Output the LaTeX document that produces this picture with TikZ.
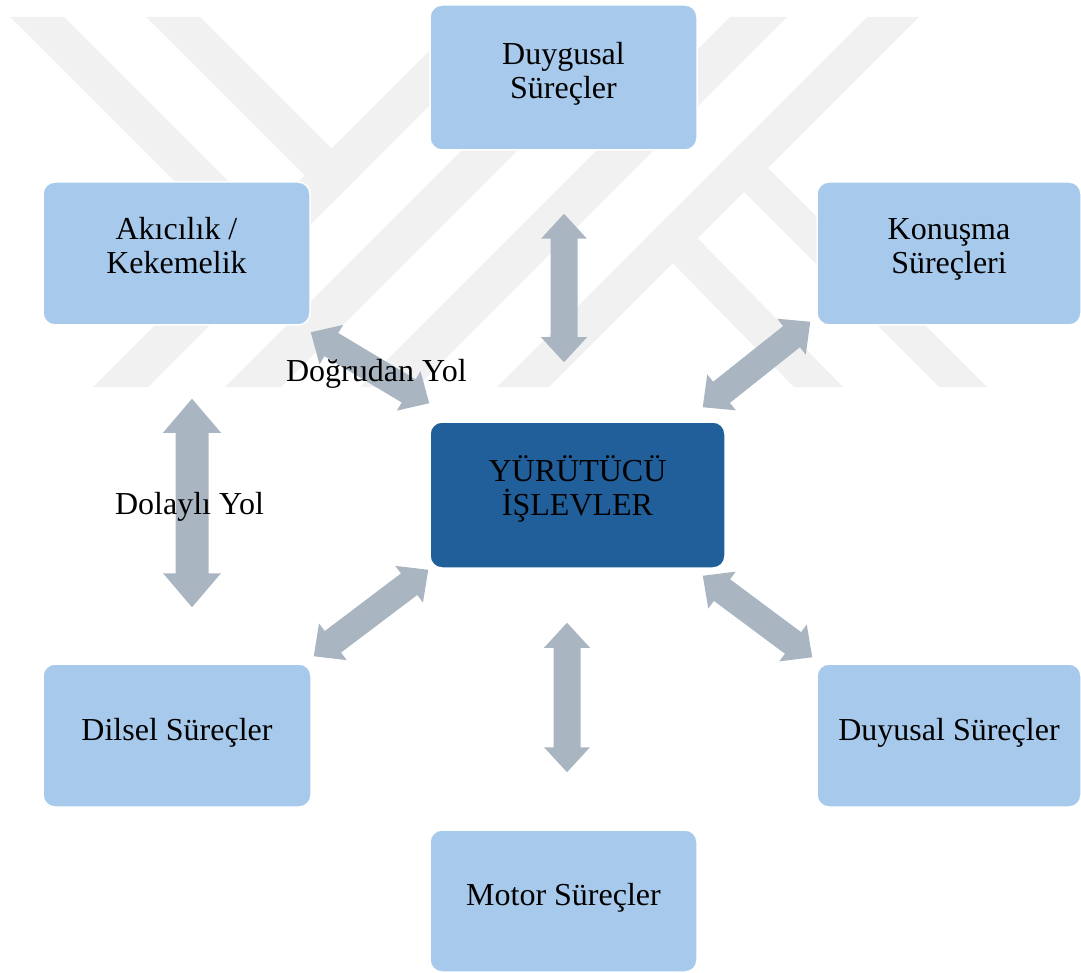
\documentclass[tikz,border=0pt]{standalone}
\usepackage{fontspec}
\setmainfont{Liberation Serif}
\usetikzlibrary{calc}

\definecolor{boxblue}{RGB}{167,201,235}
\definecolor{coreblue}{RGB}{33,95,154}
\definecolor{arrowgray}{RGB}{170,181,194}
\definecolor{markgray}{RGB}{241,241,241}

\tikzset{
  procbox/.style={rectangle, rounded corners=12pt, fill=boxblue, draw=white,
    line width=1.5pt, inner sep=0pt},
  corebox/.style={procbox, fill=coreblue},
  lbl/.style={font=\fontsize{32}{34}\selectfont, align=center, inner sep=0pt, text=black},
  arrowfill/.style={fill=arrowgray},
  wmark/.style={fill=markgray},
}

% double-headed block arrow between two named points
% #1, #2: tips; #3: half shaft width; #4: half head width; #5: head length
\newcommand{\blockarrow}[5]{%
  \coordinate (ba-a) at ($(#1)!#5!(#2)$);
  \coordinate (ba-b) at ($(#2)!#5!(#1)$);
  \fill[arrowfill] (#1)
    -- ($(ba-a)!#4!90:(#2)$) -- ($(ba-a)!#3!90:(#2)$)
    -- ($(ba-b)!#3!-90:(#1)$) -- ($(ba-b)!#4!-90:(#1)$)
    -- (#2)
    -- ($(ba-b)!#4!90:(#1)$) -- ($(ba-b)!#3!90:(#1)$)
    -- ($(ba-a)!#3!-90:(#2)$) -- ($(ba-a)!#4!-90:(#2)$)
    -- cycle;
}

\begin{document}
\begin{tikzpicture}[x=1pt, y=1pt]
\useasboundingbox (0,0) rectangle (1081,-973);

% faint striped emblem in the background
\fill[wmark] (93,-387) -- (148,-387) -- (518,-17) -- (463,-17) -- cycle;
\fill[wmark] (225,-387) -- (281,-387) -- (651,-17) -- (595,-17) -- cycle;
\fill[wmark] (360,-387) -- (417,-387) -- (787,-17) -- (730,-17) -- cycle;
\fill[wmark] (497,-387) -- (549,-387) -- (919,-17) -- (867,-17) -- cycle;
\fill[wmark] (10,-17) -- (64,-17) -- (291,-244) -- (264,-271) -- cycle;
\fill[wmark] (146,-17) -- (200,-17) -- (359,-176) -- (332,-203) -- cycle;
\fill[wmark] (647,-237) -- (672,-212) -- (843,-387) -- (794,-387) -- cycle;
\fill[wmark] (718,-166) -- (742,-142) -- (987,-387) -- (939,-387) -- cycle;

% process boxes
\node[procbox, minimum width=267pt, minimum height=145pt] (duyg)  at (563.5,-77.5) {};
\node[procbox, minimum width=267pt, minimum height=143pt] (akc)   at (176.5,-253.5) {};
\node[procbox, minimum width=264pt, minimum height=143pt] (konu)  at (949,-253.5) {};
\node[corebox, minimum width=295pt, minimum height=146pt] (yur)   at (577.5,-495) {};
\node[procbox, minimum width=268pt, minimum height=143pt] (dils)  at (177,-735.5) {};
\node[procbox, minimum width=264pt, minimum height=143pt] (duyu)  at (949,-735.5) {};
\node[procbox, minimum width=267pt, minimum height=142pt] (motor) at (563.5,-901) {};

% box texts
\node[lbl] (duyg-t)  at ($(duyg.center)+(0,3.5)$)  {Duygusal\\Süreçler};
\node[lbl] (akc-t)   at ($(akc.center)+(0,7.5)$)   {Akıcılık /\\Kekemelik};
\node[lbl] (konu-t)  at ($(konu.center)+(0,4.4)$)  {Konuşma\\Süreçleri};
\node[lbl] (yur-t)   at ($(yur.center)+(0,6)$)     {YÜRÜTÜCÜ\\İŞLEVLER};
\node[lbl] (dils-t)  at ($(dils.center)+(0,3)$)    {Dilsel Süreçler};
\node[lbl] (duyu-t)  at ($(duyu.center)+(0,3)$)    {Duyusal Süreçler};
\node[lbl] (motor-t) at ($(motor.center)+(0,3.5)$) {Motor Süreçler};

% arrow tips beside the boxes
\coordinate (a1) at ($(duyg.south)+(0.5,-63)$);
\coordinate (a2) at ($(yur.north)+(-13.5,59)$);
\coordinate (b1) at ($(akc.south east)+(0,-6.5)$);
\coordinate (b2) at ($(yur.north west)+(0,18)$);
\coordinate (c1) at ($(konu.south west)+(-6,4)$);
\coordinate (c2) at ($(yur.north east)+(-23,14)$);
\coordinate (d1) at ($(yur.south west)+(-1,-1)$);
\coordinate (d2) at ($(dils.north east)+(2,7)$);
\coordinate (e1) at ($(yur.south east)+(-23,-7)$);
\coordinate (e2) at ($(duyu.north west)+(-4,6)$);
\coordinate (f1) at ($(yur.south)+(-10.5,-54)$);
\coordinate (f2) at ($(motor.north)+(3.5,57)$);
\coordinate (g1) at ($(akc.south)+(15.5,-73)$);
\coordinate (g2) at ($(dils.north)+(15,56)$);

% connectors
\blockarrow{a1}{a2}{13.5pt}{23pt}{25pt}
\blockarrow{b1}{b2}{13.5pt}{23pt}{24pt}
\blockarrow{c1}{c2}{13.5pt}{23pt}{24pt}
\blockarrow{d1}{d2}{13.5pt}{23pt}{24pt}
\blockarrow{e1}{e2}{13.5pt}{23pt}{24pt}
\blockarrow{f1}{f2}{13.5pt}{23pt}{25pt}
\blockarrow{g1}{g2}{16.5pt}{29pt}{34pt}

% path labels
\node[lbl] (direct)   at (376.5,-373.5) {Doğrudan Yol};
\node[lbl] (indirect) at (189.5,-506.5) {Dolaylı Yol};
\end{tikzpicture}
\end{document}
